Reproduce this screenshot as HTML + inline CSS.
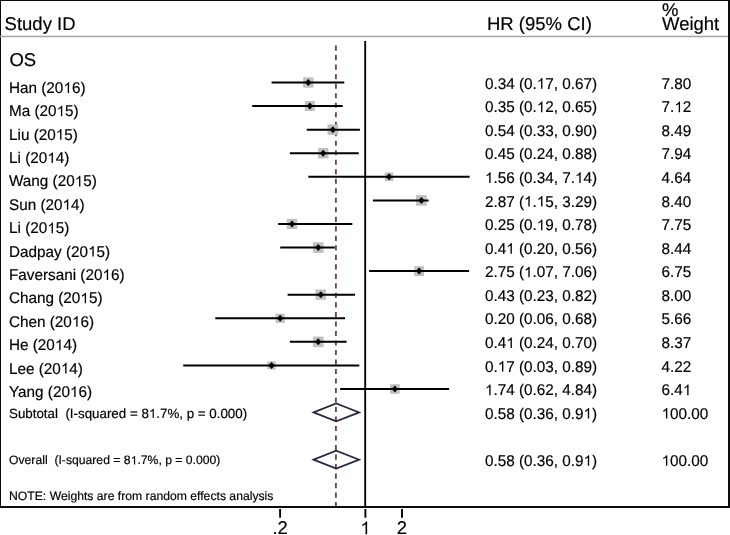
<!DOCTYPE html><html><head><meta charset="utf-8"><style>
html,body{margin:0;padding:0;background:#fff;}
svg{display:block;will-change:transform;}
text{font-family:"Liberation Sans",sans-serif;fill:#000;text-rendering:geometricPrecision;stroke:#000;stroke-width:0.18px;white-space:pre;}
.o{fill:#000;stroke:#000;stroke-width:0.18px;}
.h{fill:#000;fill-opacity:0;stroke:none;}
</style></head><body>
<svg width="730" height="535" viewBox="0 0 730 535">
<rect x="0" y="0" width="730" height="535" fill="#fff"/>
<line x1="0" y1="0.5" x2="730" y2="0.5" stroke="#0d0d0d" stroke-width="1"/>
<line x1="0.5" y1="0" x2="0.5" y2="507" stroke="#0d0d0d" stroke-width="1"/>
<line x1="729" y1="0" x2="729" y2="508" stroke="#0d0d0d" stroke-width="2"/>
<line x1="0" y1="507" x2="730" y2="507" stroke="#0d0d0d" stroke-width="2"/>
<line x1="0" y1="36.5" x2="728" y2="36.5" stroke="#a4a4a4" stroke-width="1.3"/>
<line x1="365.2" y1="41" x2="365.2" y2="506" stroke="#000" stroke-width="1.86"/>
<line x1="335.9" y1="45.6" x2="335.9" y2="506" stroke="#6a4a52" stroke-width="1.9" stroke-dasharray="5.1 4.41"/>
<rect x="303.15" y="77.33" width="10.34" height="10.34" fill="#c0c0c0"/>
<line x1="271.59" y1="82.50" x2="344.27" y2="82.50" stroke="#000" stroke-width="2"/>
<path d="M308.32 79.00L311.42 82.50L308.32 86.00L305.22 82.50Z" fill="#000"/>
<rect x="304.86" y="101.08" width="9.99" height="9.99" fill="#c0c0c0"/>
<line x1="252.20" y1="106.08" x2="342.67" y2="106.08" stroke="#000" stroke-width="2"/>
<path d="M309.86 102.58L312.96 106.08L309.86 109.58L306.76 106.08Z" fill="#000"/>
<rect x="327.51" y="124.32" width="10.67" height="10.67" fill="#c0c0c0"/>
<line x1="306.74" y1="129.65" x2="359.92" y2="129.65" stroke="#000" stroke-width="2"/>
<path d="M332.84 126.15L335.94 129.65L332.84 133.15L329.74 129.65Z" fill="#000"/>
<rect x="317.98" y="148.03" width="10.41" height="10.41" fill="#c0c0c0"/>
<line x1="289.86" y1="153.23" x2="358.72" y2="153.23" stroke="#000" stroke-width="2"/>
<path d="M323.18 149.73L326.28 153.23L323.18 156.73L320.08 153.23Z" fill="#000"/>
<rect x="384.78" y="172.52" width="8.57" height="8.57" fill="#c0c0c0"/>
<line x1="308.32" y1="176.81" x2="469.68" y2="176.81" stroke="#000" stroke-width="2"/>
<path d="M389.07 173.31L392.17 176.81L389.07 180.31L385.97 176.81Z" fill="#000"/>
<rect x="416.06" y="195.07" width="10.63" height="10.63" fill="#c0c0c0"/>
<line x1="372.91" y1="200.38" x2="428.62" y2="200.38" stroke="#000" stroke-width="2"/>
<path d="M421.38 196.88L424.48 200.38L421.38 203.88L418.28 200.38Z" fill="#000"/>
<rect x="286.87" y="218.81" width="10.31" height="10.31" fill="#c0c0c0"/>
<line x1="278.20" y1="223.96" x2="352.33" y2="223.96" stroke="#000" stroke-width="2"/>
<path d="M292.03 220.46L295.13 223.96L292.03 227.46L288.93 223.96Z" fill="#000"/>
<rect x="312.92" y="242.22" width="10.65" height="10.65" fill="#c0c0c0"/>
<line x1="280.20" y1="247.54" x2="334.77" y2="247.54" stroke="#000" stroke-width="2"/>
<path d="M318.25 244.04L321.35 247.54L318.25 251.04L315.15 247.54Z" fill="#000"/>
<rect x="414.22" y="266.22" width="9.80" height="9.80" fill="#c0c0c0"/>
<line x1="369.09" y1="271.12" x2="469.09" y2="271.12" stroke="#000" stroke-width="2"/>
<path d="M419.11 267.62L422.21 271.12L419.11 274.62L416.01 271.12Z" fill="#000"/>
<rect x="315.55" y="289.48" width="10.43" height="10.43" fill="#c0c0c0"/>
<line x1="287.61" y1="294.69" x2="354.98" y2="294.69" stroke="#000" stroke-width="2"/>
<path d="M320.77 291.19L323.87 294.69L320.77 298.19L317.67 294.69Z" fill="#000"/>
<rect x="275.60" y="313.67" width="9.19" height="9.19" fill="#c0c0c0"/>
<line x1="215.30" y1="318.27" x2="345.06" y2="318.27" stroke="#000" stroke-width="2"/>
<path d="M280.20 314.77L283.30 318.27L280.20 321.77L277.10 318.27Z" fill="#000"/>
<rect x="312.94" y="336.54" width="10.61" height="10.61" fill="#c0c0c0"/>
<line x1="289.86" y1="341.85" x2="346.60" y2="341.85" stroke="#000" stroke-width="2"/>
<path d="M318.25 338.35L321.35 341.85L318.25 345.35L315.15 341.85Z" fill="#000"/>
<rect x="267.44" y="361.28" width="8.29" height="8.29" fill="#c0c0c0"/>
<line x1="183.20" y1="365.42" x2="359.32" y2="365.42" stroke="#000" stroke-width="2"/>
<path d="M271.59 361.92L274.69 365.42L271.59 368.92L268.49 365.42Z" fill="#000"/>
<rect x="390.05" y="384.19" width="9.61" height="9.61" fill="#c0c0c0"/>
<line x1="340.16" y1="389.00" x2="449.08" y2="389.00" stroke="#000" stroke-width="2"/>
<path d="M394.86 385.50L397.96 389.00L394.86 392.50L391.76 389.00Z" fill="#000"/>
<path d="M313.6 412.4L336.2 403.45L359.2 412.4L336.2 421.34999999999997Z" fill="none" stroke="#2a2642" stroke-width="1.7" stroke-linejoin="miter"/>
<path d="M313.6 459.65L336.2 450.7L359.2 459.65L336.2 468.59999999999997Z" fill="none" stroke="#2a2642" stroke-width="1.7" stroke-linejoin="miter"/>
<line x1="280.10" y1="509" x2="280.10" y2="517.7" stroke="#000" stroke-width="1.9"/>
<line x1="365.40" y1="509" x2="365.40" y2="517.7" stroke="#000" stroke-width="1.9"/>
<line x1="402.00" y1="509" x2="402.00" y2="517.7" stroke="#000" stroke-width="1.9"/>
<g transform="translate(4.60 30.30)"><text font-size="18.5">Study ID</text>
</g>
<g transform="translate(487.00 30.30)"><text font-size="18.5">HR (95% CI)</text>
</g>
<g transform="translate(662.00 16.00)"><text font-size="18.5">%</text>
</g>
<g transform="translate(662.00 30.30)"><text font-size="18.5">Weight</text>
</g>
<g transform="translate(9.40 66.40)"><text font-size="18.5">OS</text>
</g>
<g transform="translate(9.00 92.90) scale(0.986 1)"><text font-size="15.5">Han (20<tspan class="h">1</tspan>6)</text>
<path class="o" transform="translate(55.16 0) scale(0.007568 -0.007568)" d="M763 0L583 0L583 1102Q518 1043 412 983Q306 924 223 894L223 1061Q372 1128 484 1224Q596 1321 643 1409L763 1409Z"/>
</g>
<g transform="translate(484.90 88.70) scale(0.986 1)"><text font-size="15.5">0.34 (0.<tspan class="h">1</tspan>7, 0.67)</text>
<path class="o" transform="translate(52.56 0) scale(0.007568 -0.007568)" d="M763 0L583 0L583 1102Q518 1043 412 983Q306 924 223 894L223 1061Q372 1128 484 1224Q596 1321 643 1409L763 1409Z"/>
</g>
<g transform="translate(661.60 88.70) scale(0.986 1)"><text font-size="15.5">7.80</text>
</g>
<g transform="translate(9.00 116.29) scale(0.986 1)"><text font-size="15.5">Ma (20<tspan class="h">1</tspan>5)</text>
<path class="o" transform="translate(48.25 0) scale(0.007568 -0.007568)" d="M763 0L583 0L583 1102Q518 1043 412 983Q306 924 223 894L223 1061Q372 1128 484 1224Q596 1321 643 1409L763 1409Z"/>
</g>
<g transform="translate(484.90 112.28) scale(0.986 1)"><text font-size="15.5">0.35 (0.<tspan class="h">1</tspan>2, 0.65)</text>
<path class="o" transform="translate(52.56 0) scale(0.007568 -0.007568)" d="M763 0L583 0L583 1102Q518 1043 412 983Q306 924 223 894L223 1061Q372 1128 484 1224Q596 1321 643 1409L763 1409Z"/>
</g>
<g transform="translate(661.60 112.28) scale(0.986 1)"><text font-size="15.5">7.<tspan class="h">1</tspan>2</text>
<path class="o" transform="translate(12.94 0) scale(0.007568 -0.007568)" d="M763 0L583 0L583 1102Q518 1043 412 983Q306 924 223 894L223 1061Q372 1128 484 1224Q596 1321 643 1409L763 1409Z"/>
</g>
<g transform="translate(9.00 139.67) scale(0.986 1)"><text font-size="15.5">Liu (20<tspan class="h">1</tspan>5)</text>
<path class="o" transform="translate(47.41 0) scale(0.007568 -0.007568)" d="M763 0L583 0L583 1102Q518 1043 412 983Q306 924 223 894L223 1061Q372 1128 484 1224Q596 1321 643 1409L763 1409Z"/>
</g>
<g transform="translate(484.90 135.85) scale(0.986 1)"><text font-size="15.5">0.54 (0.33, 0.90)</text>
</g>
<g transform="translate(661.60 135.85) scale(0.986 1)"><text font-size="15.5">8.49</text>
</g>
<g transform="translate(9.00 163.06) scale(0.986 1)"><text font-size="15.5">Li (20<tspan class="h">1</tspan>4)</text>
<path class="o" transform="translate(38.78 0) scale(0.007568 -0.007568)" d="M763 0L583 0L583 1102Q518 1043 412 983Q306 924 223 894L223 1061Q372 1128 484 1224Q596 1321 643 1409L763 1409Z"/>
</g>
<g transform="translate(484.90 159.43) scale(0.986 1)"><text font-size="15.5">0.45 (0.24, 0.88)</text>
</g>
<g transform="translate(661.60 159.43) scale(0.986 1)"><text font-size="15.5">7.94</text>
</g>
<g transform="translate(9.00 186.44) scale(0.986 1)"><text font-size="15.5">Wang (20<tspan class="h">1</tspan>5)</text>
<path class="o" transform="translate(66.62 0) scale(0.007568 -0.007568)" d="M763 0L583 0L583 1102Q518 1043 412 983Q306 924 223 894L223 1061Q372 1128 484 1224Q596 1321 643 1409L763 1409Z"/>
</g>
<g transform="translate(484.90 183.01) scale(0.986 1)"><text font-size="15.5"><tspan class="h">1</tspan>.56 (0.34, 7.<tspan class="h">1</tspan>4)</text>
<path class="o" transform="translate(0.00 0) scale(0.007568 -0.007568)" d="M763 0L583 0L583 1102Q518 1043 412 983Q306 924 223 894L223 1061Q372 1128 484 1224Q596 1321 643 1409L763 1409Z"/>
<path class="o" transform="translate(91.36 0) scale(0.007568 -0.007568)" d="M763 0L583 0L583 1102Q518 1043 412 983Q306 924 223 894L223 1061Q372 1128 484 1224Q596 1321 643 1409L763 1409Z"/>
</g>
<g transform="translate(661.60 183.01) scale(0.986 1)"><text font-size="15.5">4.64</text>
</g>
<g transform="translate(9.00 209.83) scale(0.986 1)"><text font-size="15.5">Sun (20<tspan class="h">1</tspan>4)</text>
<path class="o" transform="translate(54.30 0) scale(0.007568 -0.007568)" d="M763 0L583 0L583 1102Q518 1043 412 983Q306 924 223 894L223 1061Q372 1128 484 1224Q596 1321 643 1409L763 1409Z"/>
</g>
<g transform="translate(484.90 206.59) scale(0.986 1)"><text font-size="15.5">2.87 (<tspan class="h">1</tspan>.<tspan class="h">1</tspan>5, 3.29)</text>
<path class="o" transform="translate(39.64 0) scale(0.007568 -0.007568)" d="M763 0L583 0L583 1102Q518 1043 412 983Q306 924 223 894L223 1061Q372 1128 484 1224Q596 1321 643 1409L763 1409Z"/>
<path class="o" transform="translate(52.58 0) scale(0.007568 -0.007568)" d="M763 0L583 0L583 1102Q518 1043 412 983Q306 924 223 894L223 1061Q372 1128 484 1224Q596 1321 643 1409L763 1409Z"/>
</g>
<g transform="translate(661.60 206.59) scale(0.986 1)"><text font-size="15.5">8.40</text>
</g>
<g transform="translate(9.00 233.21) scale(0.986 1)"><text font-size="15.5">Li (20<tspan class="h">1</tspan>5)</text>
<path class="o" transform="translate(38.78 0) scale(0.007568 -0.007568)" d="M763 0L583 0L583 1102Q518 1043 412 983Q306 924 223 894L223 1061Q372 1128 484 1224Q596 1321 643 1409L763 1409Z"/>
</g>
<g transform="translate(484.90 230.16) scale(0.986 1)"><text font-size="15.5">0.25 (0.<tspan class="h">1</tspan>9, 0.78)</text>
<path class="o" transform="translate(52.56 0) scale(0.007568 -0.007568)" d="M763 0L583 0L583 1102Q518 1043 412 983Q306 924 223 894L223 1061Q372 1128 484 1224Q596 1321 643 1409L763 1409Z"/>
</g>
<g transform="translate(661.60 230.16) scale(0.986 1)"><text font-size="15.5">7.75</text>
</g>
<g transform="translate(9.00 256.60) scale(0.986 1)"><text font-size="15.5">Dadpay (20<tspan class="h">1</tspan>5)</text>
<path class="o" transform="translate(80.14 0) scale(0.007568 -0.007568)" d="M763 0L583 0L583 1102Q518 1043 412 983Q306 924 223 894L223 1061Q372 1128 484 1224Q596 1321 643 1409L763 1409Z"/>
</g>
<g transform="translate(484.90 253.74) scale(0.986 1)"><text font-size="15.5">0.4<tspan class="h">1</tspan> (0.20, 0.56)</text>
<path class="o" transform="translate(21.56 0) scale(0.007568 -0.007568)" d="M763 0L583 0L583 1102Q518 1043 412 983Q306 924 223 894L223 1061Q372 1128 484 1224Q596 1321 643 1409L763 1409Z"/>
</g>
<g transform="translate(661.60 253.74) scale(0.986 1)"><text font-size="15.5">8.44</text>
</g>
<g transform="translate(9.00 279.98) scale(0.986 1)"><text font-size="15.5">Faversani (20<tspan class="h">1</tspan>6)</text>
<path class="o" transform="translate(94.77 0) scale(0.007568 -0.007568)" d="M763 0L583 0L583 1102Q518 1043 412 983Q306 924 223 894L223 1061Q372 1128 484 1224Q596 1321 643 1409L763 1409Z"/>
</g>
<g transform="translate(484.90 277.32) scale(0.986 1)"><text font-size="15.5">2.75 (<tspan class="h">1</tspan>.07, 7.06)</text>
<path class="o" transform="translate(39.64 0) scale(0.007568 -0.007568)" d="M763 0L583 0L583 1102Q518 1043 412 983Q306 924 223 894L223 1061Q372 1128 484 1224Q596 1321 643 1409L763 1409Z"/>
</g>
<g transform="translate(661.60 277.32) scale(0.986 1)"><text font-size="15.5">6.75</text>
</g>
<g transform="translate(9.00 303.37) scale(0.986 1)"><text font-size="15.5">Chang (20<tspan class="h">1</tspan>5)</text>
<path class="o" transform="translate(72.39 0) scale(0.007568 -0.007568)" d="M763 0L583 0L583 1102Q518 1043 412 983Q306 924 223 894L223 1061Q372 1128 484 1224Q596 1321 643 1409L763 1409Z"/>
</g>
<g transform="translate(484.90 300.89) scale(0.986 1)"><text font-size="15.5">0.43 (0.23, 0.82)</text>
</g>
<g transform="translate(661.60 300.89) scale(0.986 1)"><text font-size="15.5">8.00</text>
</g>
<g transform="translate(9.00 326.75) scale(0.986 1)"><text font-size="15.5">Chen (20<tspan class="h">1</tspan>6)</text>
<path class="o" transform="translate(63.77 0) scale(0.007568 -0.007568)" d="M763 0L583 0L583 1102Q518 1043 412 983Q306 924 223 894L223 1061Q372 1128 484 1224Q596 1321 643 1409L763 1409Z"/>
</g>
<g transform="translate(484.90 324.47) scale(0.986 1)"><text font-size="15.5">0.20 (0.06, 0.68)</text>
</g>
<g transform="translate(661.60 324.47) scale(0.986 1)"><text font-size="15.5">5.66</text>
</g>
<g transform="translate(9.00 350.13) scale(0.986 1)"><text font-size="15.5">He (20<tspan class="h">1</tspan>4)</text>
<path class="o" transform="translate(46.53 0) scale(0.007568 -0.007568)" d="M763 0L583 0L583 1102Q518 1043 412 983Q306 924 223 894L223 1061Q372 1128 484 1224Q596 1321 643 1409L763 1409Z"/>
</g>
<g transform="translate(484.90 348.05) scale(0.986 1)"><text font-size="15.5">0.4<tspan class="h">1</tspan> (0.24, 0.70)</text>
<path class="o" transform="translate(21.56 0) scale(0.007568 -0.007568)" d="M763 0L583 0L583 1102Q518 1043 412 983Q306 924 223 894L223 1061Q372 1128 484 1224Q596 1321 643 1409L763 1409Z"/>
</g>
<g transform="translate(661.60 348.05) scale(0.986 1)"><text font-size="15.5">8.37</text>
</g>
<g transform="translate(9.00 373.52) scale(0.986 1)"><text font-size="15.5">Lee (20<tspan class="h">1</tspan>4)</text>
<path class="o" transform="translate(52.58 0) scale(0.007568 -0.007568)" d="M763 0L583 0L583 1102Q518 1043 412 983Q306 924 223 894L223 1061Q372 1128 484 1224Q596 1321 643 1409L763 1409Z"/>
</g>
<g transform="translate(484.90 371.62) scale(0.986 1)"><text font-size="15.5">0.<tspan class="h">1</tspan>7 (0.03, 0.89)</text>
<path class="o" transform="translate(12.94 0) scale(0.007568 -0.007568)" d="M763 0L583 0L583 1102Q518 1043 412 983Q306 924 223 894L223 1061Q372 1128 484 1224Q596 1321 643 1409L763 1409Z"/>
</g>
<g transform="translate(661.60 371.62) scale(0.986 1)"><text font-size="15.5">4.22</text>
</g>
<g transform="translate(9.00 396.90) scale(0.986 1)"><text font-size="15.5">Yang (20<tspan class="h">1</tspan>6)</text>
<path class="o" transform="translate(61.77 0) scale(0.007568 -0.007568)" d="M763 0L583 0L583 1102Q518 1043 412 983Q306 924 223 894L223 1061Q372 1128 484 1224Q596 1321 643 1409L763 1409Z"/>
</g>
<g transform="translate(484.90 395.20) scale(0.986 1)"><text font-size="15.5"><tspan class="h">1</tspan>.74 (0.62, 4.84)</text>
<path class="o" transform="translate(0.00 0) scale(0.007568 -0.007568)" d="M763 0L583 0L583 1102Q518 1043 412 983Q306 924 223 894L223 1061Q372 1128 484 1224Q596 1321 643 1409L763 1409Z"/>
</g>
<g transform="translate(661.60 395.20) scale(0.986 1)"><text font-size="15.5">6.4<tspan class="h">1</tspan></text>
<path class="o" transform="translate(21.56 0) scale(0.007568 -0.007568)" d="M763 0L583 0L583 1102Q518 1043 412 983Q306 924 223 894L223 1061Q372 1128 484 1224Q596 1321 643 1409L763 1409Z"/>
</g>
<g transform="translate(9.00 417.90)"><text font-size="13.35">Subtotal  (I-squared = 8<tspan class="h">1</tspan>.7%, p = 0.000)</text>
<path class="o" transform="translate(139.83 0) scale(0.006519 -0.006519)" d="M763 0L583 0L583 1102Q518 1043 412 983Q306 924 223 894L223 1061Q372 1128 484 1224Q596 1321 643 1409L763 1409Z"/>
</g>
<g transform="translate(9.00 464.40)"><text font-size="12.2">Overall  (I-squared = 8<tspan class="h">1</tspan>.7%, p = 0.000)</text>
<path class="o" transform="translate(121.59 0) scale(0.005957 -0.005957)" d="M763 0L583 0L583 1102Q518 1043 412 983Q306 924 223 894L223 1061Q372 1128 484 1224Q596 1321 643 1409L763 1409Z"/>
</g>
<g transform="translate(484.90 418.60) scale(0.986 1)"><text font-size="15.5">0.58 (0.36, 0.9<tspan class="h">1</tspan>)</text>
<path class="o" transform="translate(99.97 0) scale(0.007568 -0.007568)" d="M763 0L583 0L583 1102Q518 1043 412 983Q306 924 223 894L223 1061Q372 1128 484 1224Q596 1321 643 1409L763 1409Z"/>
</g>
<g transform="translate(661.60 418.60) scale(0.986 1)"><text font-size="15.5"><tspan class="h">1</tspan>00.00</text>
<path class="o" transform="translate(0.00 0) scale(0.007568 -0.007568)" d="M763 0L583 0L583 1102Q518 1043 412 983Q306 924 223 894L223 1061Q372 1128 484 1224Q596 1321 643 1409L763 1409Z"/>
</g>
<g transform="translate(484.90 465.80) scale(0.986 1)"><text font-size="15.5">0.58 (0.36, 0.9<tspan class="h">1</tspan>)</text>
<path class="o" transform="translate(99.97 0) scale(0.007568 -0.007568)" d="M763 0L583 0L583 1102Q518 1043 412 983Q306 924 223 894L223 1061Q372 1128 484 1224Q596 1321 643 1409L763 1409Z"/>
</g>
<g transform="translate(661.60 465.80) scale(0.986 1)"><text font-size="15.5"><tspan class="h">1</tspan>00.00</text>
<path class="o" transform="translate(0.00 0) scale(0.007568 -0.007568)" d="M763 0L583 0L583 1102Q518 1043 412 983Q306 924 223 894L223 1061Q372 1128 484 1224Q596 1321 643 1409L763 1409Z"/>
</g>
<g transform="translate(9.00 499.70)"><text font-size="12.2">NOTE: Weights are from random effects analysis</text>
</g>
<g transform="translate(280.10 534.20)"><text font-size="18.5" text-anchor="middle">.2</text>
</g>
<g transform="translate(365.40 534.20)"><text font-size="18.5" text-anchor="middle"><tspan class="h">1</tspan></text>
<path class="o" transform="translate(-5.15 0) scale(0.009033 -0.009033)" d="M763 0L583 0L583 1102Q518 1043 412 983Q306 924 223 894L223 1061Q372 1128 484 1224Q596 1321 643 1409L763 1409Z"/>
</g>
<g transform="translate(402.00 534.20)"><text font-size="18.5" text-anchor="middle">2</text>
</g>
</svg></body></html>
